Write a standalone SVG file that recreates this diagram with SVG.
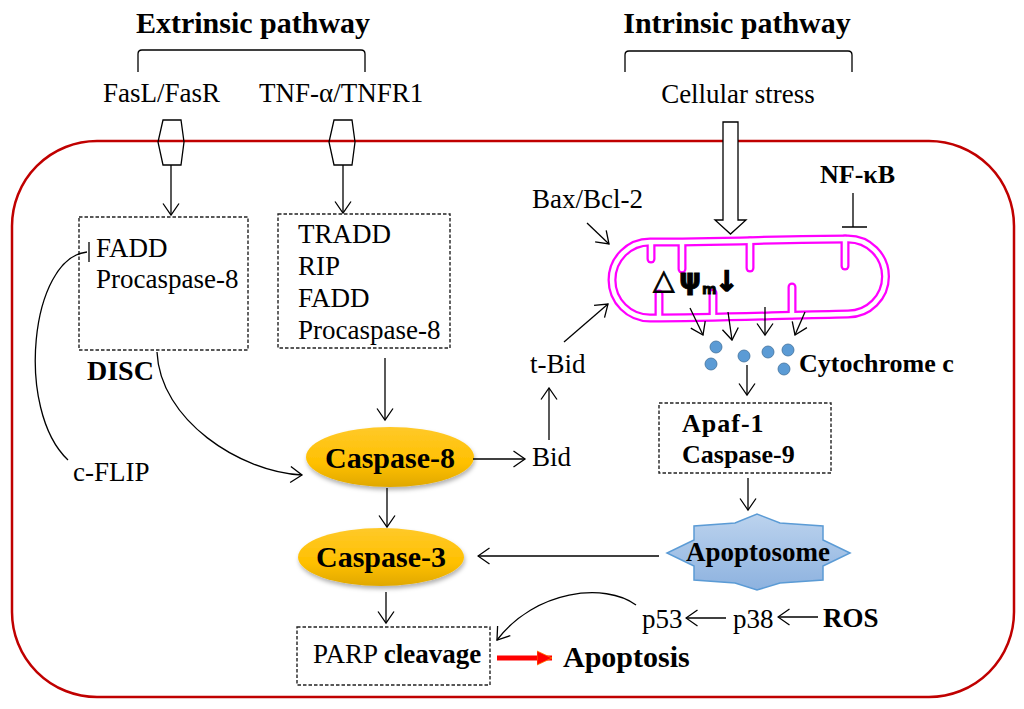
<svg xmlns="http://www.w3.org/2000/svg" width="1024" height="709" viewBox="0 0 1024 709">
<style>
text{font-family:"Liberation Serif","Times New Roman",serif;fill:#000}
.r{font-size:27px}
.b{font-weight:bold}
.box{fill:none;stroke:#222;stroke-width:1.4;stroke-dasharray:3.5,2}
.ln{fill:none;stroke:#000;stroke-width:1.3}
.ar{fill:none;stroke:#000;stroke-width:1.3;marker-end:url(#a)}
.cyt{fill:#5b9bd5;stroke:#41719c;stroke-width:0.8}
</style>
<defs>
<marker id="a" viewBox="0 0 14 18" refX="12.5" refY="9" markerWidth="14" markerHeight="18" markerUnits="userSpaceOnUse" orient="auto">
<path d="M1,1 L12.5,9 L1,17" fill="none" stroke="#000" stroke-width="1.3"/>
</marker>
<marker id="ra" viewBox="0 0 16 16" refX="15" refY="8" markerWidth="16" markerHeight="16" markerUnits="userSpaceOnUse" orient="auto">
<path d="M0,1 L15,8 L0,15 Z" fill="#ff0000" stroke="#ff7a00" stroke-width="0.8"/>
</marker>
<linearGradient id="gold" x1="0" y1="0" x2="0" y2="1">
<stop offset="0" stop-color="#ffc929"/>
<stop offset="0.6" stop-color="#ffc000"/>
<stop offset="1" stop-color="#e0a800"/>
</linearGradient>
<linearGradient id="blue" x1="0" y1="0" x2="0" y2="1">
<stop offset="0" stop-color="#bcd3ee"/>
<stop offset="1" stop-color="#8db2df"/>
</linearGradient>
<filter id="sh" x="-20%" y="-20%" width="140%" height="160%">
<feDropShadow dx="1" dy="3" stdDeviation="2" flood-color="#000" flood-opacity="0.3"/>
</filter>
</defs>

<!-- cell membrane -->
<rect id="cell" x="12" y="141" width="1002" height="556" rx="85" ry="85" fill="none" stroke="#c00000" stroke-width="2.5"/>

<g id="extrinsic">
<text x="253" y="33" text-anchor="middle" class="b" font-size="30">Extrinsic pathway</text>
<path class="ln" d="M138,72 L138,54 Q138,50 142,50 L361,50 Q365,50 365,54 L365,72"/>
</g>
<g id="intrinsic">
<text x="737" y="33" text-anchor="middle" class="b" font-size="30">Intrinsic pathway</text>
<path class="ln" d="M625,72 L625,55 Q625,51 629,51 L848,51 Q852,51 852,55 L852,72"/>
</g>

<g id="fasl">
<text x="103" y="102" class="r" font-size="27.5">FasL/FasR</text>
<polygon points="163,120 181,120 184,142 181,165 163,165 158,142" fill="none" stroke="#000" stroke-width="1.3"/>
</g>
<g id="tnf">
<text x="259" y="102" class="r">TNF-α/TNFR1</text>
<polygon points="334,120 352,120 355,142 352,165 334,165 329,142" fill="none" stroke="#000" stroke-width="1.3"/>
</g>

<g id="disc">
<rect class="box" x="79" y="217" width="169" height="133"/>
<text x="96" y="257" class="r">FADD</text>
<text x="96" y="288" class="r">Procaspase-8</text>
<text x="87" y="380" class="b" font-size="28">DISC</text>
</g>

<g id="tradd">
<rect class="box" x="278" y="214" width="172" height="134"/>
<text x="298" y="243" class="r">TRADD</text>
<text x="298" y="275" class="r">RIP</text>
<text x="298" y="307" class="r">FADD</text>
<text x="298" y="339" class="r">Procaspase-8</text>
</g>

<g id="cflip"><text x="73" y="481" class="r">c-FLIP</text></g>

<g id="casp8">
<ellipse cx="390" cy="457" rx="84" ry="30" fill="url(#gold)" filter="url(#sh)"/>
<text x="390" y="468" text-anchor="middle" class="b" font-size="30">Caspase-8</text>
</g>
<g id="casp3">
<ellipse cx="381" cy="557" rx="83" ry="29" fill="url(#gold)" filter="url(#sh)"/>
<text x="381" y="567" text-anchor="middle" class="b" font-size="30">Caspase-3</text>
</g>

<g id="bid"><text x="532" y="466" class="r">Bid</text></g>
<g id="tbid"><text x="530" y="373" class="r">t-Bid</text></g>
<g id="bax"><text x="532" y="208" class="r">Bax/Bcl-2</text></g>

<g id="stress"><text x="738" y="103" text-anchor="middle" class="r">Cellular stress</text></g>
<g id="nfkb"><text x="820" y="183" class="b" font-size="26">NF-κB</text></g>

<g id="mito">
<g fill="none" stroke="#ff00ff" stroke-width="9" stroke-linecap="round">
<path d="M650,242 C720,242 790,239 848,239 A37.5,37.5 0 0 1 848,314 C790,315 720,318 650,318 A38,38 0 0 1 650,242 Z"/>
<path d="M651,243 L651,259"/>
<path d="M682,243 L682,269"/>
<path d="M750,241 L750,268"/>
<path d="M845,239 L845,266"/>
<path d="M659,317 L659,294"/>
<path d="M713,316 L713,293"/>
<path d="M792,315 L792,287"/>
</g>
<g fill="none" stroke="#ffffff" stroke-width="4.5" stroke-linecap="round">
<path d="M650,242 C720,242 790,239 848,239 A37.5,37.5 0 0 1 848,314 C790,315 720,318 650,318 A38,38 0 0 1 650,242 Z"/>
<path d="M651,243 L651,259"/>
<path d="M682,243 L682,269"/>
<path d="M750,241 L750,268"/>
<path d="M845,239 L845,266"/>
<path d="M659,317 L659,294"/>
<path d="M713,316 L713,293"/>
<path d="M792,315 L792,287"/>
</g>
<text x="653" y="289" style="font-family:'DejaVu Sans',sans-serif" font-size="28" stroke="#000" stroke-width="0.8">△<tspan x="679" y="289" font-weight="bold" font-size="28">ψ</tspan><tspan x="702" y="294" font-weight="bold" font-size="14">m</tspan><tspan x="715" y="291" font-weight="bold" font-size="28" stroke-width="1.4">↓</tspan></text>
</g>

<g id="cytc">
<circle class="cyt" cx="716" cy="347" r="6"/>
<circle class="cyt" cx="711" cy="364" r="6"/>
<circle class="cyt" cx="744" cy="356" r="6"/>
<circle class="cyt" cx="768" cy="352" r="6"/>
<circle class="cyt" cx="788" cy="350" r="6"/>
<circle class="cyt" cx="784" cy="369" r="6"/>
<text x="799" y="372" class="b" font-size="26">Cytochrome c</text>
</g>

<g id="apaf">
<rect class="box" x="659" y="403" width="172" height="70"/>
<text x="682" y="432" class="b" font-size="26" letter-spacing="1">Apaf-1</text>
<text x="682" y="463" class="b" font-size="26">Caspase-9</text>
</g>

<g id="apoptosome">
<polygon points="850,553 823,540 823,526 780,523 757,514 735,523 694,526 694,540 667,553 694,566 694,580 735,583 757,590 780,583 823,580 823,566" fill="url(#blue)" stroke="#5b9bd5" stroke-width="1.5"/>
<text x="758" y="561" text-anchor="middle" class="b" font-size="27">Apoptosome</text>
</g>

<g id="p53"><text x="642" y="628" class="r">p53</text></g>
<g id="p38"><text x="733" y="628" class="r">p38</text></g>
<g id="ros"><text x="823" y="627" class="b" font-size="27">ROS</text></g>

<g id="parp">
<rect class="box" x="297" y="627" width="193" height="58"/>
<text x="313" y="663" class="r">PARP <tspan class="b">cleavage</tspan></text>
</g>
<g id="apoptosis"><text x="563" y="667" class="b" font-size="30">Apoptosis</text></g>

<g id="connectors">
<path class="ar" d="M171,165 L171,215"/>
<path class="ar" d="M343,165 L343,213"/>
<path class="ar" d="M385,358 L385,420"/>
<path class="ar" d="M157,352 C160,420 240,472 302,475"/>
<path class="ln" d="M87,252 C30,258 15,410 68,460"/>
<path class="ln" d="M89,242 L89,262"/>
<path class="ar" d="M387,488 L387,527"/>
<path class="ar" d="M473,459 L525,459"/>
<path class="ar" d="M549,440 L549,388"/>
<path class="ar" d="M564,342 L608,304"/>
<path class="ar" d="M587,223 L609,244"/>
<path d="M723,122 L738,122 L738,220 L746,220 L730.5,234 L715,220 L723,220 Z" fill="#fff" stroke="#000" stroke-width="1.3"/>
<path class="ln" d="M853,193 L853,227 M842,227 L867,227"/>
<path class="ar" d="M690,308 L703,335"/>
<path class="ar" d="M728,312 L732,340"/>
<path class="ar" d="M765,307 L765,335"/>
<path class="ar" d="M805,312 L795,335"/>
<path class="ar" d="M747,365 L747,395"/>
<path class="ar" d="M748,478 L748,510"/>
<path class="ar" d="M659,556 L478,556"/>
<path class="ar" d="M726,618 L686,618"/>
<path class="ar" d="M818,617 L778,617"/>
<path class="ar" d="M636,605 C605,582 535,590 497,640"/>
<path class="ar" d="M386,592 L386,623"/>
<path d="M497,658 L552,658" fill="none" stroke="#ff0000" stroke-width="5" marker-end="url(#ra)"/>
</g>
</svg>
